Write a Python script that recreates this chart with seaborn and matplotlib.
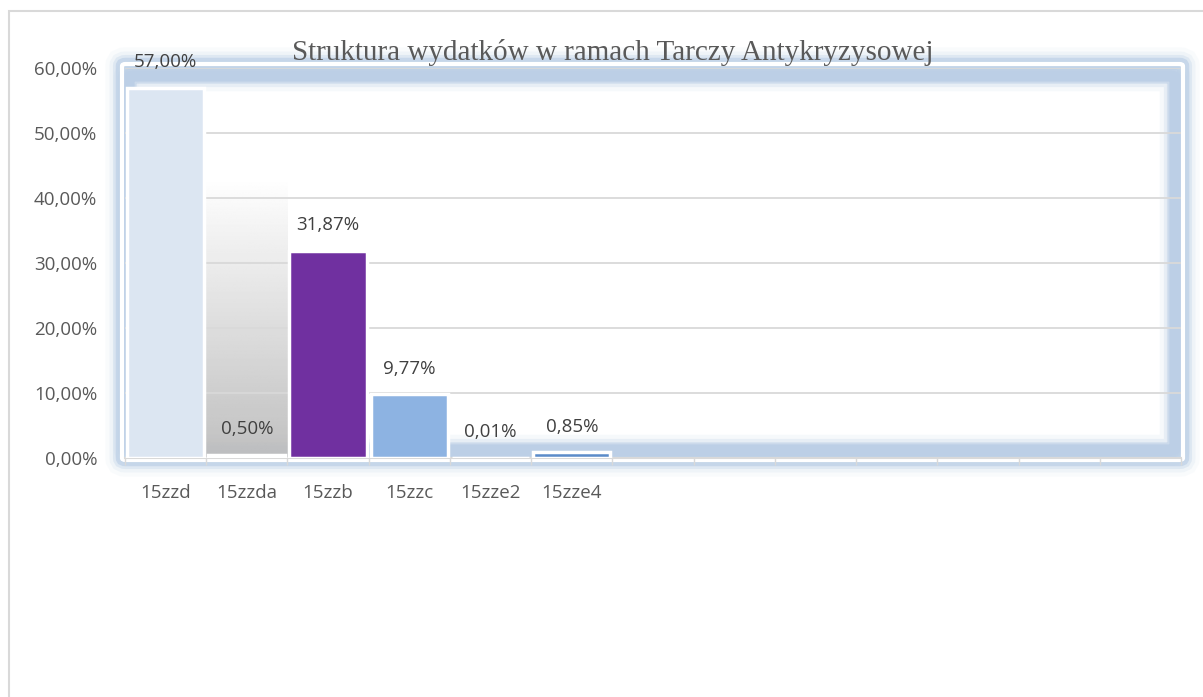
import matplotlib.pyplot as plt
import matplotlib.patches as mpatches
import numpy as np
import pandas as pd
import seaborn as sns

output_path = "out.png"

categories = ["15zzd", "15zzda", "15zzb", "15zzc", "15zze2", "15zze4"]
shares = [57.00, 0.50, 31.87, 9.77, 0.01, 0.85]
labels = ["57,00%", "0,50%", "31,87%", "9,77%", "0,01%", "0,85%"]
bar_colors = ["#dce6f2", "#8d9db5", "#7030a0", "#8db3e2", "#c6d9f1", "#5b8bc9"]
n_slots = 13  # wykres ma puste miejsca na kolejne kategorie
y_ticks = [0, 10, 20, 30, 40, 50, 60]
y_ticklabels = ["0,00%", "10,00%", "20,00%", "30,00%", "40,00%", "50,00%", "60,00%"]

sns.set_theme(style="white")
plt.rcParams["font.family"] = ["Open Sans", "DejaVu Sans"]

df = pd.DataFrame({"kategoria": categories, "udzial": shares})

W, H = 1203, 697
fig = plt.figure(figsize=(W / 100, H / 100), dpi=100)


def px_box(x0, y0, x1, y1):
    # prostokąt w pikselach (od lewego górnego rogu) -> współrzędne figury
    return x0 / W, 1 - y1 / H, (x1 - x0) / W, (y1 - y0) / H


PAD = 0.003


def frame(x0, y0, x1, y1, **kw):
    # odejmujemy zaokrąglenie, żeby linia wypadła dokładnie na podanych pikselach
    px, py = PAD * W, PAD * H
    x, y, w, h = px_box(x0 + px, y0 + py, x1 - px, y1 - py)
    fig.patches.append(mpatches.FancyBboxPatch(
        (x, y), w, h, boxstyle=f"round,pad={PAD}",
        transform=fig.transFigure, fill=False, **kw,
    ))


# cienka ramka wokół całego obrazka
x, y, w, h = px_box(9, 11, W + 20, H + 20)
fig.patches.append(mpatches.Rectangle(
    (x, y), w, h, transform=fig.transFigure,
    fill=False, edgecolor="#d9d9d9", linewidth=1.5,
))

# poświata na zewnątrz ramki
for lw, alpha in [(24, 0.08), (18, 0.15), (13, 0.3), (9, 0.6)]:
    frame(122, 64, 1183, 460, edgecolor="#b9cde5", linewidth=lw, alpha=alpha)
# wewnętrzny niebieski pas z rozmyciem do środka
for lw, alpha in [(22, 0.12), (16, 0.25), (11, 0.6), (8, 1.0)]:
    frame(129, 76, 1175, 450, edgecolor="#bccfe6", linewidth=lw, alpha=alpha)
frame(122, 64, 1183, 460, edgecolor="white", linewidth=3)

ax = fig.add_axes(px_box(125, 68, 1181, 458))
ax.set_zorder(2)
ax.set_facecolor("none")

# szary gradient w tle kategorii 15zzda
pos = categories.index("15zzda")
grad = np.linspace(0.74, 1.0, 200).reshape(-1, 1)
ax.imshow(grad, cmap="gray", vmin=0, vmax=1, aspect="auto",
          extent=(pos - 0.5, pos + 0.5, 0, 43), origin="lower", zorder=0.5, alpha=0.95)

sns.barplot(
    data=df, x="kategoria", y="udzial", hue="kategoria",
    palette=bar_colors, legend=False, width=0.95, saturation=1,
    edgecolor="white", linewidth=2.5, ax=ax, zorder=3,
)

for i, (v, lab) in enumerate(zip(shares, labels)):
    ax.annotate(lab, (i, v), xytext=(0, 12), textcoords="offset points",
                ha="center", va="bottom", fontsize=13.5, color="#404040",
                annotation_clip=False, zorder=5)

ax.set_xlim(-0.5, n_slots - 0.5)
ax.set_ylim(0, 60)
ax.set_yticks(y_ticks)
ax.set_yticklabels(y_ticklabels, fontsize=13.5, color="#595959")
ax.set_xticks(range(len(categories)))
ax.set_xticklabels(categories, fontsize=13.5, color="#595959")
ax.set_xticks(np.arange(-0.5, n_slots, 1), minor=True)
ax.tick_params(axis="x", which="major", length=0, pad=19)
ax.tick_params(axis="x", which="minor", length=5, color="#d9d9d9", direction="out", bottom=True)
ax.tick_params(axis="y", length=0, pad=20)
ax.yaxis.grid(True, color="#d9d9d9", linewidth=1.3, zorder=0)
ax.set_axisbelow(True)
ax.set_xlabel("")
ax.set_ylabel("")
for side in ["top", "right", "left"]:
    ax.spines[side].set_visible(False)
ax.spines["bottom"].set_color("#d9d9d9")
ax.spines["bottom"].set_linewidth(1.5)

fig.text(613 / W, 1 - 53 / H, "Struktura wydatków w ramach Tarczy Antykryzysowej",
         ha="center", va="center", fontsize=21, color="#595959",
         family=["Liberation Serif", "DejaVu Serif"])

fig.savefig(output_path, dpi=100)
print("saved:", output_path)
